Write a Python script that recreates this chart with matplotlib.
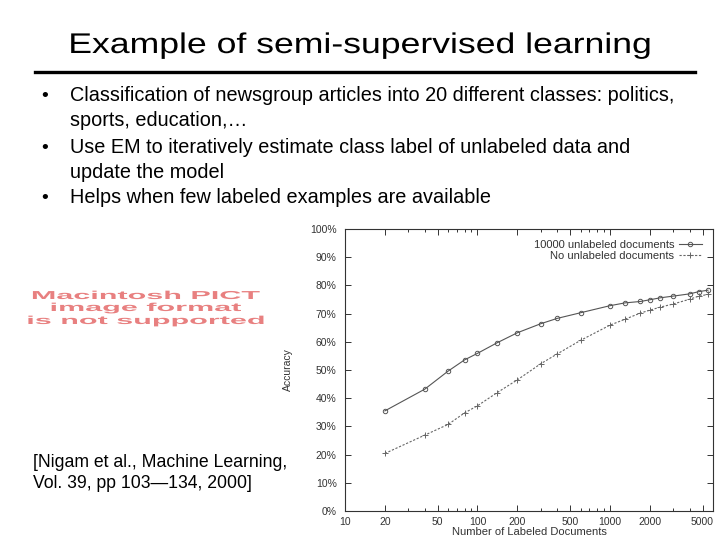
import matplotlib
matplotlib.use("Agg")
import matplotlib.pyplot as plt
import matplotlib.patheffects as pe
from matplotlib.transforms import Affine2D
from matplotlib.lines import Line2D

plt.rcParams['font.family'] = ['Liberation Sans', 'DejaVu Sans']

# slide text
title = "Example of semi-supervised learning"
bullets = [
    ["Classification of newsgroup articles into 20 different classes: politics,",
     "sports, education,\u2026"],
    ["Use EM to iteratively estimate class label of unlabeled data and",
     "update the model"],
    ["Helps when few labeled examples are available"],
]
citation = ["[Nigam et al., Machine Learning,", "Vol. 39, pp 103\u2014134, 2000]"]
pict_msg = ["Macintosh PICT", "image format", "is not supported"]

# chart data
n_labeled = [20, 40, 60, 80, 100, 140, 200, 300, 400, 600, 1000, 1300, 1700,
             2000, 2400, 3000, 4000, 4700, 5500]
acc_em = [35.5, 43.2, 49.6, 53.6, 55.9, 59.6, 63.2, 66.4, 68.3, 70.3, 72.8,
          73.8, 74.3, 74.9, 75.6, 76.2, 77.0, 77.8, 78.3]
acc_nb = [20.4, 26.9, 30.7, 34.8, 37.3, 41.9, 46.5, 52.2, 55.7, 60.5, 65.9,
          68.0, 70.2, 71.2, 72.3, 73.4, 75.1, 76.2, 76.8]
series_names = ["10000 unlabeled documents", "No unlabeled documents"]
x_major = [10, 20, 50, 100, 200, 500, 1000, 2000, 5000]
x_minor = [30, 40, 60, 70, 80, 90, 300, 400, 600, 700, 800, 900,
           3000, 4000]
y_ticks = list(range(0, 101, 10))


class Stretch(pe.AbstractPathEffect):
    # widen glyphs horizontally around each line's centre
    def __init__(self, sx):
        super().__init__()
        self.sx = sx

    def draw_path(self, renderer, gc, tpath, affine, rgbFace=None):
        ext = tpath.get_extents()
        cx = (ext.x0 + ext.x1) / 2
        t = Affine2D().translate(-cx, 0).scale(self.sx, 1).translate(cx, 0) + affine
        renderer.draw_path(gc, tpath, t, rgbFace)


W, H = 720, 540
fig = plt.figure(figsize=(7.2, 5.4), dpi=100)

def fx(px):
    return px / W

def fy(py):
    return 1 - py / H

fig.text(fx(360), fy(53), title, fontsize=20.5, ha='center', va='baseline',
         path_effects=[Stretch(1.25)])
fig.add_artist(Line2D([fx(35), fx(695)], [fy(72), fy(72)], color='black', lw=2.4))

bullet_y = [101, 153, 203]
line_gap = 25.5
for lines, y in zip(bullets, bullet_y):
    fig.text(fx(41), fy(y), "\u2022", fontsize=14, ha='left', va='baseline')
    for i, ln in enumerate(lines):
        fig.text(fx(70), fy(y + i * line_gap), ln, fontsize=14.3, ha='left',
                 va='baseline')

for i, ln in enumerate(citation):
    fig.text(fx(33), fy(467 + i * 21.5), ln, fontsize=12.7, ha='left', va='baseline')

for ln, y in zip(pict_msg, [299, 311, 324]):
    fig.text(fx(146), fy(y), ln, fontsize=8.3, fontweight='bold', color='#e88080',
             ha='center', va='baseline', path_effects=[Stretch(2.65)])

# chart
ax = fig.add_axes([fx(345), fy(511), fx(713) - fx(345), (511 - 229) / H])
ax.set_xscale('log')
ink = '#333333'
ax.plot(n_labeled, acc_em, color='#555555', lw=0.8, marker='o', ms=3.2,
        mfc='none', mew=0.7, label=series_names[0])
ax.plot(n_labeled, acc_nb, color='#666666', lw=0.8, ls=(0, (2, 1.5)), marker='+',
        ms=4, mew=0.7, label=series_names[1])
ax.set_xlim(10, 6000)
ax.set_ylim(0, 100)
ax.set_xticks(x_major)
ax.set_xticklabels([str(v) for v in x_major])
ax.set_xticks(x_minor, minor=True)
ax.set_xticklabels([], minor=True)
ax.set_yticks(y_ticks)
ax.set_yticklabels([f"{v}%" for v in y_ticks])
ax.tick_params(which='both', direction='in', top=True, right=True, colors=ink,
               labelsize=7.5, width=0.7)
ax.tick_params(which='major', length=4, pad=4)
ax.tick_params(axis='y', pad=6)
ax.tick_params(which='minor', length=2.5)
for s in ax.spines.values():
    s.set_color(ink)
    s.set_linewidth(0.8)
ax.set_xlabel("Number of Labeled Documents", fontsize=8, color=ink, labelpad=0)
ax.set_ylabel("Accuracy", fontsize=7.5, color=ink)
ax.yaxis.set_label_coords(-0.14, 0.5)
ax.legend(loc='upper right', frameon=False, markerfirst=False, fontsize=8,
          handlelength=2.1, handletextpad=0.4, labelspacing=0.05,
          borderaxespad=0.6, labelcolor=ink)

fig.savefig("out.png", dpi=100)
